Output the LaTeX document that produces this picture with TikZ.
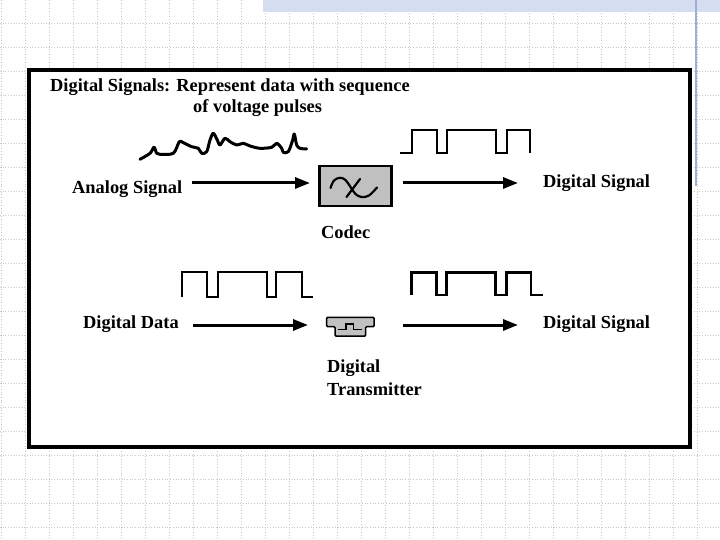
\documentclass[tikz,border=0pt]{standalone}
\usepackage{fontspec}
\setmainfont{Liberation Serif}
\usetikzlibrary{arrows.meta}

\definecolor{gridgray}{RGB}{200,200,200}
\definecolor{stripblue}{RGB}{212,222,240}
\definecolor{edgeblue}{RGB}{160,176,212}
\definecolor{boxgray}{RGB}{192,192,192}

\tikzset{
  lbl/.style={anchor=base west, inner sep=0pt, font=\fontsize{18.4}{22}\selectfont\bfseries},
  sigline/.style={line width=2.8pt, line join=miter},
  sigarrow/.style={line width=3pt, -{Triangle[length=15pt,width=11pt]}},
  codecbox/.style={draw, fill=boxgray, line width=2.5pt, minimum width=72pt, minimum height=40pt, inner sep=0pt}
}

\begin{document}
\begin{tikzpicture}[x=1pt, y=-1pt]

  \useasboundingbox (0,0) rectangle (720,540);
  \fill[white] (0,0) rectangle (720,540);

  % Background grid of the slide
  \foreach \gx in {1,25,...,697}
    \draw[gridgray, dotted, line width=0.7pt] (\gx,0) -- (\gx,540);
  \foreach \gy in {23,47,...,527}
    \draw[gridgray, dotted, line width=0.7pt] (0,\gy) -- (720,\gy);
  \fill[stripblue] (263,0) rectangle (720,12);
  \draw[edgeblue, line width=1.5pt] (696,0) -- (696,186);

  % Frame
  \draw[line width=4.5pt, fill=white] (29,70) rectangle (690,447);

  % Title
  \node[lbl] (title) at (50,92) {Digital Signals: Represent data with sequence};
  \node[lbl] (title2) at (193,112.5) {of voltage pulses};

  % Upper row: analog signal through codec
  \draw[line width=3pt, line join=round, line cap=round] plot[smooth, tension=0.5] coordinates {
    (140,159.3) (150,153.3) (154,147.3) (156.7,153.3) (160,154.3) (173.3,153.3)
    (179.3,141.7) (183.3,142.7) (191.7,146.7) (198.3,148.3) (201.7,153.3) (206.7,151.7)
    (210,140) (213.3,133.3) (217.3,140) (220,145) (225,138.3) (230,141.7)
    (236.7,145) (243.3,143.3) (250,146) (260,148.3) (271.7,147.3) (276.7,143.3)
    (281.7,148.3) (283.3,152.3) (288.3,151.7) (292.7,140) (294.3,134) (296.7,145)
    (300,148.3) (306.7,149)};

  \node[lbl] (analog) at (72,194) {Analog Signal};
  \node[codecbox] (codec) at (355.5,186) {};
  \draw[line width=2.2pt, line cap=round] plot[smooth, tension=0.6] coordinates {
    (330.5,188) (334,180.5) (340,177.8) (345.5,180) (350.5,187) (355.5,194) (361.5,197) (369,195.5) (377,187.5)};
  \draw[line width=2.2pt, line cap=round] (360,179) -- (346.5,197);
  \node[lbl] (codeclbl) at (321,239) {Codec};

  \coordinate (codecin) at (310,183);
  \coordinate (analogout) at (192,183);
  \draw[sigarrow] (analogout) -- (codecin);

  \draw[sigline] (400,153) -- (412,153) -- (412,130) -- (437,130) -- (437,153) -- (447,153)
    -- (447,130) -- (496,130) -- (496,153) -- (507,153) -- (507,130) -- (530,130) -- (530,153);

  \coordinate (codecout) at (403,183);
  \coordinate (sigin1) at (518,183);
  \draw[sigarrow] (codecout) -- (sigin1);
  \node[lbl] (digsig1) at (543,188) {Digital Signal};

  % Lower row: digital data through transmitter
  \draw[sigline] (182,297) -- (182,272) -- (207,272) -- (207,297) -- (218,297) -- (218,272)
    -- (267,272) -- (267,297) -- (276,297) -- (276,272) -- (302,272) -- (302,297) -- (313,297);

  \node[lbl] (digdata) at (83,328.5) {Digital Data};
  \coordinate (dataout) at (193,325);
  \coordinate (xmitin) at (308,325);
  \draw[sigarrow] (dataout) -- (xmitin);

  \draw[line width=1.5pt, fill=boxgray, rounded corners=1pt]
    (326.7,317.3) -- (374,317.3) -- (374,326.7) -- (365.7,326.7) -- (365.7,336)
    -- (335,336) -- (335,326.7) -- (326.7,326.7) -- cycle;
  \draw[line width=1.2pt] (338,329.3) -- (346,329.3) -- (346,324) -- (353.3,324)
    -- (353.3,329.3) -- (361.7,329.3);

  \node[lbl] (xmit1) at (327,372.5) {Digital};
  \node[lbl] (xmit2) at (327,395) {Transmitter};

  \draw[sigline] (411.7,295) -- (411.7,272.7) -- (436.7,272.7) -- (436.7,295) -- (446.7,295)
    -- (446.7,272.7) -- (495.7,272.7) -- (495.7,295) -- (506.7,295) -- (506.7,272.7)
    -- (531,272.7) -- (531,295) -- (543,295);

  \coordinate (xmitout) at (403,325);
  \coordinate (sigin2) at (518,325);
  \draw[sigarrow] (xmitout) -- (sigin2);
  \node[lbl] (digsig2) at (543,328.5) {Digital Signal};

\end{tikzpicture}
\end{document}
